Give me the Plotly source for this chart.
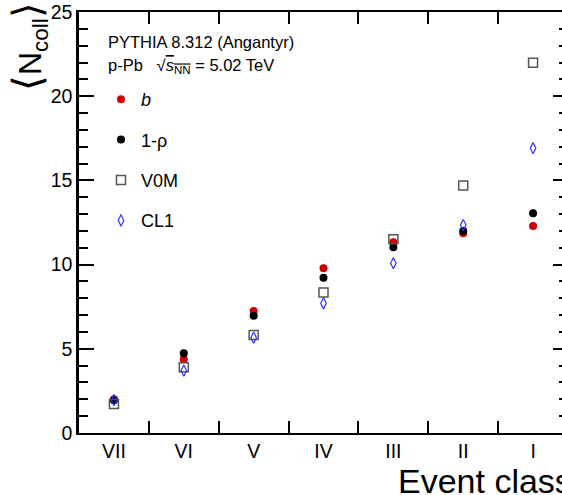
import plotly.graph_objects as go

# ---- data ----
classes = ["VII", "VI", "V", "IV", "III", "II", "I"]
ncoll_b = [2.00, 4.38, 7.24, 9.78, 11.32, 11.86, 12.29]
ncoll_1rho = [1.95, 4.73, 6.97, 9.22, 11.03, 12.00, 13.05]
ncoll_v0m = [1.72, 3.90, 5.82, 8.35, 11.50, 14.69, 21.99]
ncoll_cl1 = [1.95, 3.70, 5.66, 7.70, 10.08, 12.35, 16.91]
y_ticks = [0, 5, 10, 15, 20, 25]

xpos = list(range(len(classes)))
FONT = "Liberation Sans, Arial, Helvetica, sans-serif"

fig = go.Figure()
fig.add_trace(go.Scatter(x=xpos, y=ncoll_b, mode="markers", name="<i>b</i>",
                         legendgroup="a",
                         marker=dict(symbol="circle", size=8, color="#cc0000")))
fig.add_trace(go.Scatter(x=xpos, y=ncoll_1rho, mode="markers", name="1-ρ",
                         legendgroup="b",
                         marker=dict(symbol="circle", size=8, color="black")))
fig.add_trace(go.Scatter(x=xpos, y=ncoll_v0m, mode="markers", name="V0M",
                         legendgroup="c",
                         marker=dict(symbol="square-open", size=9, color="#555555",
                                     line=dict(width=1.5, color="#555555"))))
fig.add_trace(go.Scatter(x=xpos, y=ncoll_cl1, mode="markers", name="CL1",
                         legendgroup="d",
                         marker=dict(symbol="diamond-tall-open", size=8, color="#3030ff",
                                     line=dict(width=1.2, color="#3030ff"))))
# helper trace for the right-hand tick axis
fig.add_trace(go.Scatter(x=[None], y=[None], yaxis="y2", showlegend=False,
                         hoverinfo="skip"))

fig.update_layout(
    width=562, height=495,
    margin=dict(l=79, r=0, t=12, b=62),
    plot_bgcolor="white", paper_bgcolor="white",
    font=dict(family=FONT, color="black"),
    xaxis=dict(
        range=[-0.5, 6.414],
        tickmode="array", tickvals=xpos, ticktext=classes,
        ticks="inside", ticklen=0,
        tickfont=dict(size=19.5),
        minor=dict(tick0=0.5, dtick=1, ticks="inside", ticklen=12,
                   tickwidth=2, tickcolor="black"),
        showline=True, linewidth=2, linecolor="black", mirror="allticks",
        showgrid=False, zeroline=False,
    ),
    yaxis=dict(
        range=[0, 25],
        tickmode="array", tickvals=y_ticks,
        ticks="inside", ticklen=15, tickwidth=2, tickcolor="black",
        minor=dict(dtick=1, ticks="inside", ticklen=9, tickwidth=1.5,
                   tickcolor="black"),
        tickfont=dict(size=19.5),
        showline=True, linewidth=2.5, linecolor="black",
        showgrid=False, zeroline=False,
    ),
    yaxis2=dict(
        range=[0, 25], overlaying="y", side="right", anchor="x",
        tickmode="array", tickvals=y_ticks,
        ticks="inside", ticklen=9, tickwidth=2, tickcolor="black",
        minor=dict(dtick=1, ticks="inside", ticklen=3, tickwidth=1.5,
                   tickcolor="black"),
        showticklabels=False, showline=False, showgrid=False, zeroline=False,
    ),
    showlegend=True,
    legend=dict(
        x=(101 - 79) / 483, xanchor="left",
        y=(433 - 81) / 421, yanchor="top",
        font=dict(size=18, family=FONT),
        bgcolor="rgba(0,0,0,0)", borderwidth=0,
        tracegroupgap=14, itemwidth=30,
    ),
)

fig.add_annotation(
    text="PYTHIA 8.312 (Angantyr)", xref="paper", yref="paper",
    x=(106 - 79) / 483, y=(433 - 41.5) / 421, xanchor="left", yanchor="middle",
    showarrow=False, font=dict(size=16.5, family=FONT),
)
fig.add_annotation(
    text="p-Pb   √<span style='text-decoration:overline'><i>s</i><sub>NN</sub></span> = 5.02 TeV",
    xref="paper", yref="paper",
    x=(106 - 79) / 483, y=(433 - 66) / 421, xanchor="left", yanchor="middle",
    showarrow=False, font=dict(size=16.5, family=FONT),
)
fig.add_annotation(
    text="<span style='font-size:40px'>⟨</span>N<sub>coll</sub><span style='font-size:40px'>⟩</span>",
    xref="paper", yref="paper",
    x=(29 - 79) / 483, y=(433 - 47) / 421, xanchor="center", yanchor="middle",
    textangle=-90, showarrow=False, font=dict(size=32, family=FONT),
)
fig.add_annotation(
    text="Event class", xref="paper", yref="paper",
    x=(396 - 79) / 483, y=(433 - 481) / 421, xanchor="left", yanchor="middle",
    showarrow=False, font=dict(size=34, family=FONT),
)

fig.write_html("out.html")
